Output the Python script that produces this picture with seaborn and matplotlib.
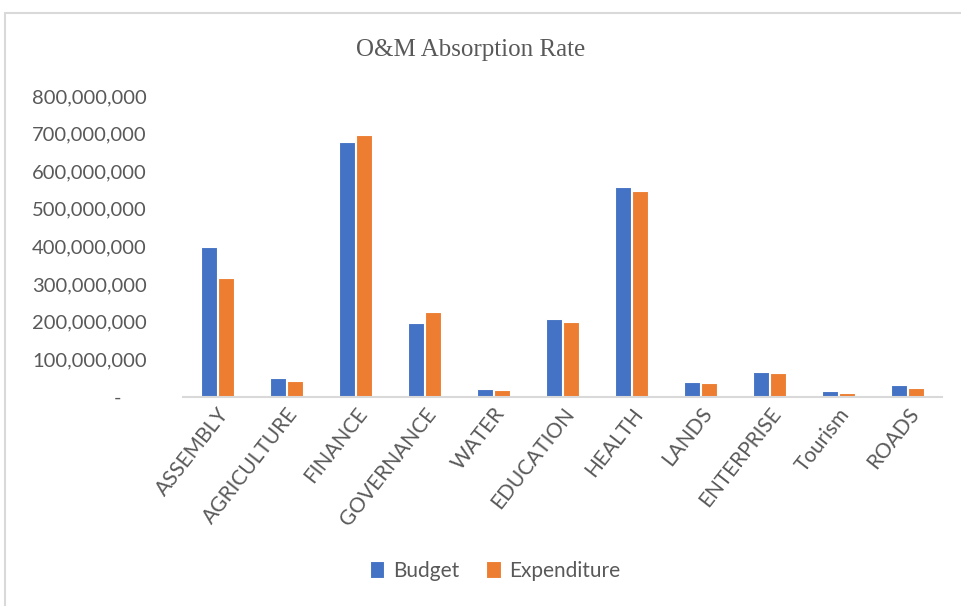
import matplotlib.pyplot as plt
import matplotlib.ticker as mticker
from matplotlib.patches import Rectangle
import seaborn as sns
import pandas as pd

departments = ["ASSEMBLY", "AGRICULTURE", "FINANCE", "GOVERNANCE", "WATER", "EDUCATION",
               "HEALTH", "LANDS", "ENTERPRISE", "Tourism", "ROADS"]
budget = [398e6, 50e6, 677e6, 196e6, 22e6, 207e6, 558e6, 39e6, 66e6, 15e6, 32e6]
expenditure = [316e6, 43e6, 697e6, 227e6, 19e6, 200e6, 548e6, 36e6, 63e6, 11e6, 23e6]

df = pd.DataFrame({
    "Department": departments * 2,
    "Amount": budget + expenditure,
    "Series": ["Budget"] * len(departments) + ["Expenditure"] * len(departments),
})

sns.set_theme(style="white")
plt.rcParams["font.family"] = ["Lato", "DejaVu Sans"]

fig = plt.figure(figsize=(9.61, 6.06), dpi=100)
fig.patches.append(Rectangle((5 / 961, -0.1), 1.2, 1.1 - 13 / 606, transform=fig.transFigure,
                             fill=False, edgecolor="#d9d9d9", linewidth=1.5))
ax = fig.add_axes([183 / 961, 1 - 397 / 606, (942 - 183) / 961, (397 - 96) / 606])

sns.barplot(data=df, x="Department", y="Amount", hue="Series", ax=ax,
            palette=["#4472c4", "#ed7d31"], saturation=1, width=0.5, gap=0.1,
            edgecolor="white", linewidth=0.8)

ax.set_ylim(0, 800e6)
ax.set_xlim(-0.5, len(departments) - 0.5)
ax.yaxis.set_major_locator(mticker.MultipleLocator(100e6))
ax.yaxis.set_major_formatter(mticker.FuncFormatter(lambda v, p: f"{v:,.0f}" if v else "-     "))
ax.tick_params(axis="y", labelsize=14.5, colors="#595959", length=0, pad=26)
ax.tick_params(axis="x", labelsize=15, colors="#595959", length=0, pad=5)
for lab in ax.get_xticklabels():
    lab.set_rotation(52)
    lab.set_ha("right")
    lab.set_rotation_mode("anchor")
ax.set_xlabel("")
ax.set_ylabel("")
for s in ["top", "right", "left"]:
    ax.spines[s].set_visible(False)
ax.spines["bottom"].set_color("#d9d9d9")
ax.spines["bottom"].set_linewidth(1.5)

fig.text(0.49, 1 - 50 / 606, "O&M Absorption Rate", ha="center", va="center",
         fontsize=18, color="#595959", family=["Liberation Serif", "DejaVu Serif"])

ax.legend_.remove()
handles, labels = ax.get_legend_handles_labels()
fig.legend(handles, labels, loc="center", bbox_to_anchor=(0.515, 1 - 571 / 606), ncol=2,
           frameon=False, fontsize=15, handlelength=0.7, handleheight=0.9,
           handletextpad=0.4, columnspacing=1.3, labelcolor="#595959")

plt.savefig("out.png", dpi=100)
